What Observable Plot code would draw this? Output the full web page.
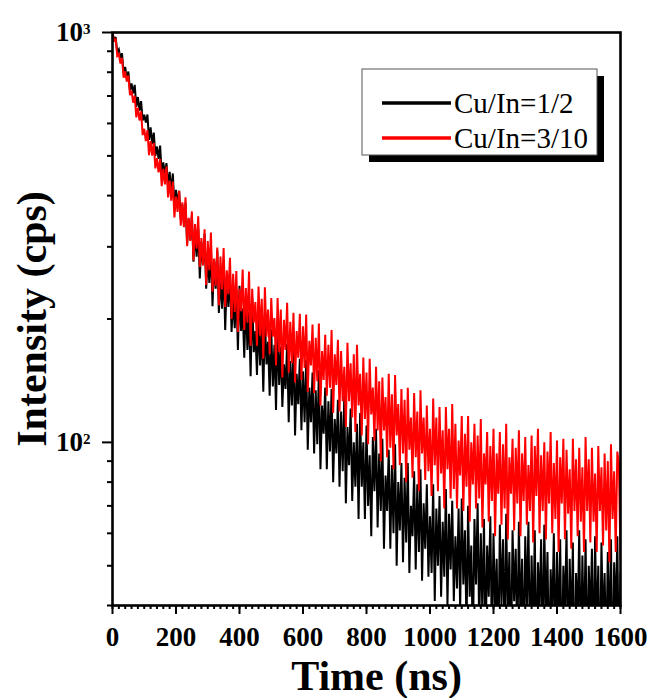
<!DOCTYPE html>
<html><head><meta charset="utf-8">
<script src="https://cdn.jsdelivr.net/npm/d3@7"></script>
<script src="https://cdn.jsdelivr.net/npm/@observablehq/plot@0.6"></script>
<style>body{margin:0;background:#fff} svg{display:block}</style>
</head><body><div id="chart"></div>
<script>
// Time grids (ns): samples on multiples of 10 ns and the in-between samples at +5 ns
const time = d3.range(0, 1601, 10);
const timeMid = d3.range(5, 1600, 10);
const seriesNames = ["Cu/In=1/2", "Cu/In=3/10"];
const seriesColors = ["#000000", "#ff0000"];
// Cu/In=1/2 intensity (cps), t = 0,10,...,1600
const black = [
1000,975,909,890,824,803,751,745,696,680,
630,631,587,570,527,530,482,480,457,453,
413,411,381,384,351,358,323,332,309,323,
282,299,278,294,255,267,252,261,224,236,
241,212,225,208,224,187,200,192,201,176,
189,173,190,171,155,174,158,174,147,160,
149,159,136,148,134,150,123,136,126,135,
114,127,119,130,109,121,100,111,118,100,
110,93,103,108,94,102,83,96,88,99,
80,89,82,89,70,85,79,86,71,79,
66,79,69,74,64,77,67,72,59,69,
73,61,70,56,65,71,60,65,56,66,
60,52,63,58,67,54,61,55,64,52,
59,64,53,61,51,58,63,54,49,60,
54,58,50,61,52,57,48,61,53,58,
50,55,59,50,57,48,54,58,51,59,
48];
// Cu/In=1/2 intensity (cps), t = 5,15,...,1595
const blackMid = [
956,895,865,794,772,723,711,659,645,610,
603,547,534,500,492,450,451,421,410,377,
384,349,340,305,312,276,284,251,271,237,
245,215,237,207,212,188,214,186,190,168,
187,161,168,145,166,146,154,133,155,130,
137,120,138,122,135,112,123,104,124,107,
112,96,112,94,99,86,105,86,95,80,
94,78,85,71,88,72,78,65,78,65,
70,59,76,62,68,55,68,55,60,50,
61,51,57,48,59,49,54,46,55,47,
48,41,50,42,47,40,49,41,44,39,
45,35,42,31,45,35,38,31,42,32,
38,29,40,32,36,28,41,31,36,29,
39,30,34,27,39,30,36,27,37,30,
34,26,38,28,34,25,36,29,32,27,
37,28,34,25,35,29,32,24,37,27];
// Cu/In=3/10 intensity (cps), t = 0,10,...,1600
const red = [
1000,962,886,867,804,785,721,701,655,642,
582,578,543,538,494,491,465,471,435,433,
398,411,385,396,353,366,341,356,315,331,
310,325,281,299,284,298,263,282,258,262,
237,264,238,261,237,220,240,224,239,211,
225,201,225,211,199,219,197,207,187,206,
192,205,177,194,180,195,167,183,173,188,
164,178,167,153,175,156,164,173,147,161,
148,160,136,153,141,144,129,147,131,146,
124,135,127,136,115,132,119,134,115,123,
108,128,115,122,107,122,108,124,111,101,
116,105,116,100,111,104,114,94,106,98,
108,94,106,99,111,92,102,97,107,94,
103,88,104,98,108,93,100,95,106,89,
101,92,102,96,86,102,91,97,87,103,
91,97,84,98,87,94,90,99,85,95,
52];
// Cu/In=3/10 intensity (cps), t = 5,15,...,1595
const redMid = [
955,877,840,776,759,703,674,621,610,562,
543,502,501,466,456,422,426,396,389,354,
365,338,335,301,310,278,297,268,270,242,
263,233,241,216,236,214,230,200,208,186,
209,188,196,172,196,172,182,160,181,164,
181,154,166,144,168,148,156,140,161,142,
152,133,154,132,141,123,142,130,136,118,
138,119,126,109,126,115,106,123,104,114,
99,117,101,107,90,107,92,97,86,104,
88,94,80,96,82,92,76,94,81,85,
74,88,76,84,69,86,73,77,69,83,
68,78,64,79,69,73,62,79,64,72,
59,75,63,69,58,75,61,71,59,72,
63,68,57,74,60,68,58,71,60,65,
54,71,58,67,55,68,59,64,54,68,
57,64,54,68,56,61,51,65,54,88];
const xTicks = [0,200,400,600,800,1000,1200,1400,1600];
const xMinor = d3.range(0, 1601, 20);
const yMajor = [100, 1000];
const yMinor = [40,50,60,70,80,90,200,300,400,500,600,700,800,900];

function series(t10, v10, t5, v5, name) {
  const pts = [];
  t10.forEach((t, i) => pts.push({t, v: v10[i], s: name}));
  t5.forEach((t, i) => pts.push({t, v: v5[i], s: name}));
  return pts.sort((a, b) => a.t - b.t);
}
const rows = [
  ...series(time, black, timeMid, blackMid, seriesNames[0]),
  ...series(time, red, timeMid, redMid, seriesNames[1])
];

const serif = "'Liberation Serif','Times New Roman',serif";
const plot = Plot.plot({
  width: 653, height: 698,
  marginLeft: 112, marginRight: 33, marginTop: 32, marginBottom: 93,
  style: {fontFamily: serif, background: "#fff"},
  x: {domain: [0, 1600]},
  y: {type: "log", domain: [40, 1000]},
  color: {domain: seriesNames, range: seriesColors},
  marks: [
    Plot.line(rows, {x: "t", y: "v", z: "s", stroke: "s", strokeWidth: 2, strokeLinejoin: "miter", strokeMiterlimit: 3, clip: true}),
    Plot.axisX(xMinor, {tickSize: 4, strokeWidth: 2, text: null, label: null}),
    Plot.axisX(xTicks, {tickSize: 9, strokeWidth: 2, tickPadding: 12, fontSize: 27, fontWeight: "bold", tickFormat: d => String(d), label: null}),
    Plot.axisY(yMinor, {tickSize: 5, strokeWidth: 2, text: null, label: null}),
    Plot.axisY(yMajor, {tickSize: 10, strokeWidth: 2, tickPadding: 12, fontSize: 27, fontWeight: "bold", tickFormat: d => d === 1000 ? "10^3" : "10^2", label: null}),
    Plot.frame({stroke: "#000", strokeWidth: 2.6}),
    Plot.text(["Time (ns)"], {frameAnchor: "bottom", lineAnchor: "middle", dy: 71, dx: 10, fontSize: 42, fontWeight: "bold"}),
    Plot.text(["Intensity (cps)"], {frameAnchor: "left", textAnchor: "middle", lineAnchor: "middle", rotate: -90, dx: -80, dy: 0, fontSize: 42, fontWeight: "bold"})
  ]
});

// superscript exponents on y tick labels
d3.select(plot).selectAll('g[aria-label="y-axis tick label"] text').each(function() {
  const t = d3.select(this);
  const parts = t.text().split("^");
  if (parts.length === 2) {
    t.text(null);
    t.append("tspan").text(parts[0]);
    t.append("tspan").attr("dy", "-0.45em").attr("font-size", "15px").text(parts[1]);
  }
});

// legend box with drop shadow
const svg = d3.select(plot);
const lg = svg.append("g").attr("font-family", serif).attr("text-anchor", "start");
lg.append("rect").attr("x", 369).attr("y", 76).attr("width", 235).attr("height", 86).attr("fill", "#000");
lg.append("rect").attr("x", 362).attr("y", 69).attr("width", 235).attr("height", 86).attr("fill", "#fff").attr("stroke", "#555").attr("stroke-width", 1);
seriesNames.forEach((name, i) => {
  const y = 103 + i * 35;
  lg.append("line").attr("x1", 382).attr("x2", 451).attr("y1", y).attr("y2", y).attr("stroke", seriesColors[i]).attr("stroke-width", 3.5);
  lg.append("text").attr("x", 454).attr("y", y + 10).attr("font-size", 29).attr("fill", "#000").attr("text-anchor", "start").text(name);
});

document.getElementById("chart").appendChild(plot);
</script>
</body></html>
